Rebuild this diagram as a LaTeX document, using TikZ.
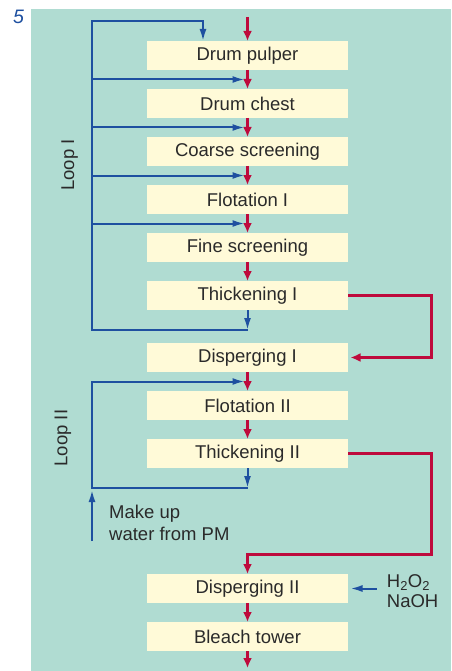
\documentclass[tikz,border=0pt]{standalone}
\usepackage{fontspec}
\setmainfont{Liberation Sans}
\usepackage{xcolor}
\usetikzlibrary{arrows.meta, positioning, calc}
\definecolor{bgteal}{HTML}{B0DCD2}
\definecolor{boxyellow}{HTML}{FFFAD8}
\definecolor{flowred}{HTML}{BE0A3C}
\definecolor{waterblue}{HTML}{1E50A0}
\definecolor{labelgray}{HTML}{2A2A2A}
\tikzset{
    stage/.style={rectangle, fill=boxyellow, minimum width=201pt, minimum height=29pt, inner sep=0pt, outer sep=0pt, align=center, text=labelgray, font=\fontsize{18.5}{22}\selectfont},
    note/.style={inner sep=0pt, align=left, text=labelgray, font=\fontsize{18.5}{22}\selectfont},
    pulp/.style={-{Latex[length=10pt,width=9pt]}, line width=3pt, draw=flowred},
    water/.style={-{Latex[length=12pt,width=7pt]}, line width=2pt, draw=waterblue}
}

\begin{document}
\begin{tikzpicture}[x=1pt, y=-1pt, node distance=19pt]
  \useasboundingbox (0,0) rectangle (451,671);
  \fill[bgteal] (31,9) rectangle (451,671);
  \node[anchor=base west, inner sep=0pt, text=waterblue, font=\fontsize{19.5}{22}\selectfont\itshape] (fignum) at (13,24) {5};
  \node[stage] (pulper) at (247.5,55.5) {Drum pulper};
  \node[stage, below=of pulper] (chest) {Drum chest};
  \node[stage, below=of chest] (coarse) {Coarse screening};
  \node[stage, below=of coarse] (flot1) {Flotation I};
  \node[stage, below=of flot1] (fine) {Fine screening};
  \node[stage, below=of fine] (thick1) {Thickening I};
  \node[stage, below=33pt of thick1] (disp1) {Disperging I};
  \node[stage, below=of disp1] (flot2) {Flotation II};
  \node[stage, below=of flot2] (thick2) {Thickening II};
  \node[stage, below=106pt of thick2] (disp2) {Disperging II};
  \node[stage, below=of disp2] (bleach) {Bleach tower};
  \node[note, rotate=90, anchor=base] (loop1) at (74,165) {Loop I};
  \node[note, rotate=90, anchor=base] (loop2) at (67.3,438) {Loop II};
  \node[note, anchor=north west] (makeup) at (109,504.5) {Make up\\water from PM};
  \node[note, anchor=north west, font=\fontsize{18.5}{20}\selectfont] (chem) at (386.7,574) {H\textsubscript{2}O\textsubscript{2}\\NaOH};

  \coordinate[above=24pt of pulper] (feed);
  \coordinate[below=17pt of bleach] (out);
  \draw[pulp] (feed) -- (pulper);
  \foreach \a/\b in {pulper/chest, chest/coarse, coarse/flot1, flot1/fine, fine/thick1, disp1/flot2, flot2/thick2, disp2/bleach}
    \draw[pulp] (\a) -- (\b);
  \draw[pulp] (bleach) -- (out);
  \draw[pulp] (thick1.east) -- ++(83,0) |- ([xshift=2.5pt]disp1.east);
  \coordinate[above=20pt of disp2] (disp2in);
  \draw[pulp] (thick2.east) -- ++(83,0) |- (disp2in) -- (disp2);

  \coordinate (loopx) at (92,21);
  \coordinate[below=20pt of thick1] (ret1);
  \draw[water] (thick1) -- (ret1);
  \draw[water] (ret1) -| (loopx) -| ([xshift=-44.5pt]pulper.north);
  \foreach \a/\b in {pulper/chest, chest/coarse, coarse/flot1, flot1/fine} {
    \coordinate (gap) at ($(\a.south)!0.5!(\b.north)$);
    \draw[water] (gap -| loopx) -- ([xshift=-3pt]gap);
  }
  \coordinate[below=20pt of thick2] (ret2);
  \coordinate (gap2) at ($(disp1.south)!0.5!(flot2.north)$);
  \draw[water] (thick2) -- (ret2);
  \draw[water] (ret2) -| (gap2 -| loopx) -- ([xshift=-3pt]gap2);
  \coordinate (ret2x) at (ret2 -| loopx);
  \coordinate[below=53pt of ret2x] (mkup);
  \draw[water] (mkup) -- ([yshift=-2pt]ret2x);
  \coordinate (chemin) at ([xshift=-10pt]chem.west);
  \draw[water] (chemin |- disp2.east) -- ([xshift=2.5pt]disp2.east);
\end{tikzpicture}
\end{document}
